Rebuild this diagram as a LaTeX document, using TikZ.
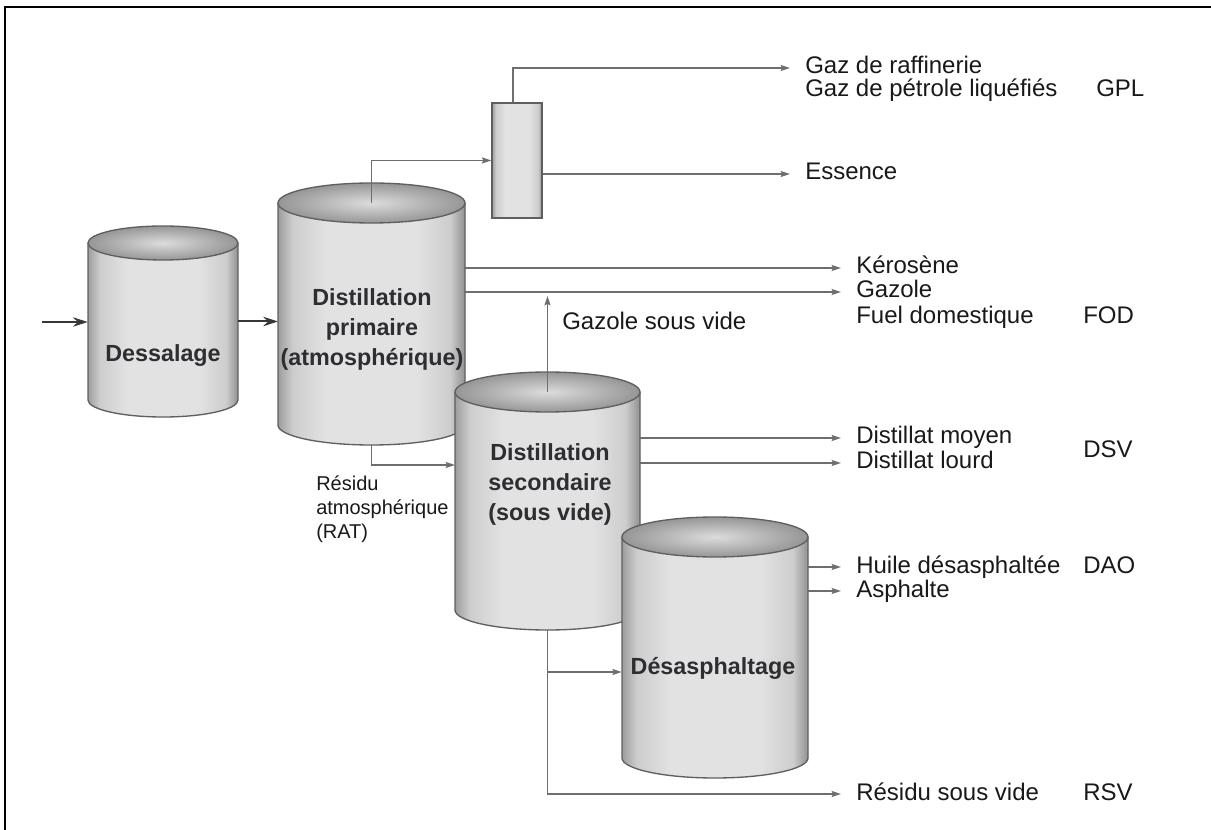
\documentclass[tikz,border=0pt]{standalone}
\usepackage{fontspec}
\setmainfont{Liberation Sans}
\usetikzlibrary{arrows.meta,calc,fit}

\definecolor{linegray}{RGB}{110,110,110}
\definecolor{feedgray}{RGB}{55,55,55}
\definecolor{edgegray}{RGB}{95,95,95}
\definecolor{cylside}{RGB}{158,158,158}
\definecolor{cylsoft}{RGB}{205,205,205}
\definecolor{cylmid}{RGB}{226,226,226}
\definecolor{cyldark}{RGB}{145,145,145}
\definecolor{topin}{RGB}{220,220,220}
\definecolor{topout}{RGB}{150,150,150}
\definecolor{inktext}{RGB}{25,25,25}
\definecolor{tanktext}{RGB}{45,45,50}

% vertical-stripe gradient for the vessel bodies
\pgfdeclarehorizontalshading{tankbody}{100bp}{color(0bp)=(cylside); color(25bp)=(cylside); color(29bp)=(cylsoft); color(38bp)=(cylmid); color(62bp)=(cylmid); color(71bp)=(cylsoft); color(75bp)=(cyldark); color(100bp)=(cyldark)}

% \tank{name}{cx}{top y}{bottom y}{x radius}{y radius}
\newcommand\tank[6]{%
  \path[shading=tankbody] (#2-#5,#3) -- (#2-#5,#4)
     arc[start angle=180,end angle=0,x radius=#5,y radius=#6] -- (#2+#5,#3) -- cycle;
  \draw[tankedge] (#2-#5,#3) -- (#2-#5,#4)
     arc[start angle=180,end angle=0,x radius=#5,y radius=#6] -- (#2+#5,#3);
  \draw[tankedge,inner color=topin,outer color=topout] (#2,#3) ellipse[x radius=#5,y radius=#6];
  \node[fit={(#2-#5,#3) (#2+#5,#4)},inner sep=0pt] (#1) {};
}

\begin{document}
\begin{tikzpicture}[x=0.75pt,y=-0.75pt,
  tankedge/.style={draw=edgegray,line width=1pt},
  flow/.style={draw=linegray,line width=1.1pt,-{Stealth[length=7pt,width=4.5pt,inset=1pt]}},
  pipe/.style={draw=linegray,line width=1.1pt},
  feed/.style={draw=feedgray,line width=1.5pt,-{Stealth[length=11pt,width=7pt]}},
  lbl/.style={anchor=west,inner xsep=11.25pt,inner ysep=0pt,text height=12pt,text depth=3pt,
              font=\fontsize{18}{21}\selectfont,text=inktext},
  ratlbl/.style={lbl,inner xsep=0pt,font=\fontsize{15}{18}\selectfont},
  tanklbl/.style={align=center,inner sep=0pt,font=\bfseries\fontsize{17.5}{22.5}\selectfont,text=tanktext}]

\useasboundingbox (0,0) rectangle (1211,830);
\fill[white] (0,0) rectangle (1211,830);
\draw[black,line width=2pt] (5,830) -- (5,7) -- (1211,7);

% crude feed and desalter
\coordinate (crude) at (42,322);
\tank{dess}{163}{243}{400}{75}{17}
\draw[feed] (crude) -- (crude -| dess.west);
\node[tanklbl] (dessl) at (163,356) {Dessalage};

% atmospheric column; its residue line runs behind the vessel
\draw[feed] (dess.east) -- (dess.east -| 278,0);
\coordinate (secin) at (455,465);
\draw[flow] (371.5,425) |- (secin);
\tank{prim}{371.5}{203}{425}{93.5}{20}
\node[tanklbl] (priml) at (372,329) {Distillation\\primaire\\(atmosphérique)};

% residue to the vacuum column
\node[ratlbl] (rat1) at (316,485) {Résidu};
\node[ratlbl] (rat2) at (316,509) {atmosphérique};
\node[ratlbl] (rat3) at (316,533) {(RAT)};

% light ends column
\node[fit={(492,103) (542,218)},inner sep=0pt,draw=edgegray,line width=1pt,shading=tankbody] (col) {};
\draw[flow] (prim.north) |- (col.west);

% products on the right
\node[lbl] (gaz1) at (790,68) {Gaz de raffinerie};
\node[lbl] (gaz2) at (790,91) {Gaz de pétrole liquéfiés};
\node[lbl] (gpl) at (1081,91) {GPL};
\node[lbl] (ess) at (790,174) {Essence};
\draw[flow] ([xshift=-3pt]col.north) |- (gaz1.west);
\draw[flow] (ess.west -| col.east) -- (ess.west);

\node[lbl] (kero) at (841,268) {Kérosène};
\node[lbl] (gazo) at (841,292) {Gazole};
\node[lbl] (fuel) at (841,318) {Fuel domestique};
\node[lbl] (fod) at (1068,318) {FOD};
\draw[flow] (kero.west -| prim.east) -- (kero.west);
\draw[flow] (gazo.west -| prim.east) -- (gazo.west);

% vacuum column; bottoms line runs behind the vessel
\node[lbl] (dm) at (841,438) {Distillat moyen};
\node[lbl] (dl) at (841,463) {Distillat lourd};
\node[lbl] (dsv) at (1068,452) {DSV};
\node[lbl] (rsv) at (841,794) {Résidu sous vide};
\node[lbl] (rsvt) at (1068,794) {RSV};

\coordinate (secbot) at (547.5,610);
\coordinate (branch) at (547.5,672);
\draw[flow] (secbot) |- (rsv.west);
\tank{sec}{547.5}{392}{610}{92.5}{20}
\draw[flow] (sec.north) -- ([yshift=-3pt]sec.north |- gazo.west);
\node[lbl] (gsv) at (547,324) {Gazole sous vide};
\node[tanklbl] (secl) at (550,484) {Distillation\\secondaire\\(sous vide)};
\draw[flow] (dm.west -| sec.east) -- (dm.west);
\draw[flow] (dl.west -| sec.east) -- (dl.west);

% deasphalting unit
\tank{deas}{715}{537}{758}{93}{20}
\draw[flow] (branch) -- (branch -| deas.west);
\node[tanklbl] (deasl) at (713,668) {Désasphaltage};
\node[lbl] (huile) at (841,567) {Huile désasphaltée};
\node[lbl] (asph) at (841,591) {Asphalte};
\node[lbl] (dao) at (1068,567) {DAO};
\draw[flow] (huile.west -| deas.east) -- (huile.west);
\draw[flow] (asph.west -| deas.east) -- (asph.west);
\end{tikzpicture}
\end{document}
